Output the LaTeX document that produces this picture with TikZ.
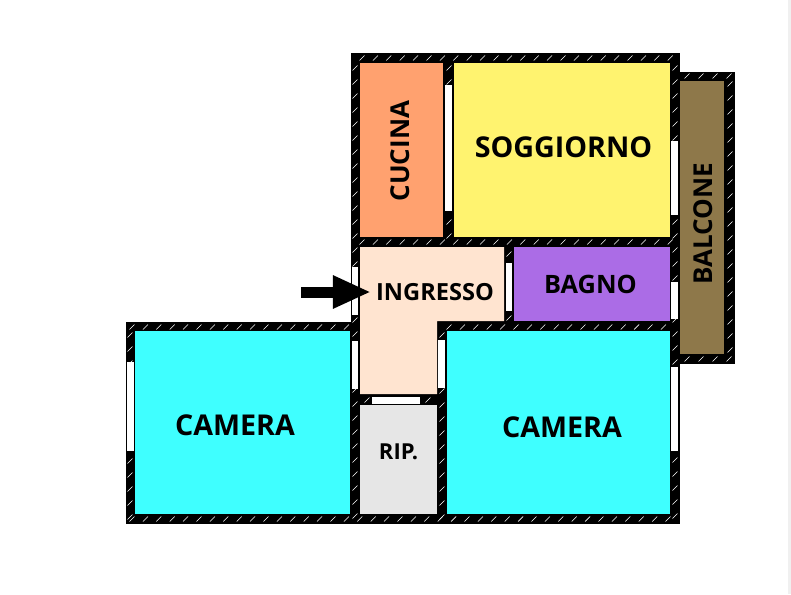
\documentclass[tikz,border=0pt]{standalone}
\usepackage{fontspec}
\setmainfont{Open Sans}
\usetikzlibrary{arrows.meta}
\definecolor{cucinaColor}{HTML}{FFA16F}
\definecolor{soggiornoColor}{HTML}{FFF36F}
\definecolor{ingressoColor}{HTML}{FFE4D0}
\definecolor{bagnoColor}{HTML}{AB6CE6}
\definecolor{cameraColor}{HTML}{3FFFFF}
\definecolor{ripColor}{HTML}{E6E6E6}
\definecolor{balconeColor}{HTML}{8E784A}
\begin{document}
\begin{tikzpicture}[x = 0.75pt, y = -0.75pt, font=\bfseries]
	\tikzstyle{wallStyle}=[fill = black, draw = none]
	\tikzstyle{roomStyle}=[draw = none]
	\tikzstyle{hatchStyle}=[draw = white, line width = 0.4pt]
	\tikzstyle{windowStyle}=[fill = white, draw = none]
	\tikzstyle{bigLabel}=[font = \fontsize{21.5}{21.5}\bfseries\selectfont, inner sep = 0pt]
	\tikzstyle{sideLabel}=[font = \fontsize{19.5}{19.5}\bfseries\selectfont, inner sep = 0pt, rotate = 90]
	\useasboundingbox (0,0) rectangle (791,594);
	\fill[white] (0,0) rectangle (791,594);
	\fill[black!6] (788,0) rectangle (791,594);
	\fill[wallStyle] (351,53) rectangle (680,322);
	\fill[wallStyle] (126,322) rectangle (680,524);
	\fill[wallStyle] (670,72) rectangle (735,364);
	\foreach \x in {362,375.4,...,676} \draw[hatchStyle] (\x-2.5,60.5) -- (\x+2.5,55.5);
	\foreach \x in {362,375.4,...,676} \draw[hatchStyle] (\x-2.5,244.5) -- (\x+2.5,239.5);
	\foreach \x in {132,145.4,...,350} \draw[hatchStyle] (\x-2.5,329.5) -- (\x+2.5,324.5);
	\foreach \x in {449,462.4,...,676} \draw[hatchStyle] (\x-2.5,329.5) -- (\x+2.5,324.5);
	\foreach \x in {132,145.4,...,676} \draw[hatchStyle] (\x-2.5,521.5) -- (\x+2.5,516.5);
	\foreach \x in {687,701,715,729} \draw[hatchStyle] (\x-2.5,78.5) -- (\x+2.5,73.5);
	\foreach \x in {687,701,715,729} \draw[hatchStyle] (\x-2.5,361.5) -- (\x+2.5,356.5);
	\foreach \x in {367,428} \draw[hatchStyle] (\x-2.5,402.5) -- (\x+2.5,397.5);
	\foreach \y in {68,82,...,520} \draw[hatchStyle] (352.5,\y+2.5) -- (357.5,\y-2.5);
	\foreach \y in {68,82,...,520} \draw[hatchStyle] (672.5,\y+2.5) -- (677.5,\y-2.5);
	\foreach \y in {68,82,...,236} \draw[hatchStyle] (446.5,\y+2.5) -- (451.5,\y-2.5);
	\foreach \y in {335,349,...,520} \draw[hatchStyle] (439.5,\y+2.5) -- (444.5,\y-2.5);
	\foreach \y in {335,349,...,520} \draw[hatchStyle] (127.5,\y+2.5) -- (132.5,\y-2.5);
	\foreach \y in {84,98,...,360} \draw[hatchStyle] (727.5,\y+2.5) -- (732.5,\y-2.5);
	\foreach \y in {254,318} \draw[hatchStyle] (506.5,\y+2.5) -- (511.5,\y-2.5);
	\fill[roomStyle, fill = cucinaColor] (360,63) rectangle (443,237);
	\fill[roomStyle, fill = soggiornoColor] (454,63) rectangle (670,237);
	\fill[roomStyle, fill = ingressoColor] (360,247) -- (504,247) -- (504,321) -- (437,321) -- (437,394) -- (360,394) -- cycle;
	\fill[roomStyle, fill = bagnoColor] (514,247) rectangle (670,321);
	\fill[roomStyle, fill = cameraColor] (135,331) rectangle (350,514);
	\fill[roomStyle, fill = cameraColor] (447,331) rectangle (670,514);
	\fill[roomStyle, fill = ripColor] (360,405) rectangle (437,514);
	\fill[roomStyle, fill = balconeColor] (680,81) rectangle (724,354);
	\fill[windowStyle] (445,85) rectangle (452,211);
	\fill[windowStyle] (352,267) rectangle (358,315);
	\fill[windowStyle] (352,341) rectangle (358,389);
	\fill[windowStyle] (438,340) rectangle (445,388);
	\fill[windowStyle] (372,397) rectangle (420,404);
	\fill[windowStyle] (506,263) rectangle (512,311);
	\fill[windowStyle] (671,141) rectangle (678,215);
	\fill[windowStyle] (671,282) rectangle (678,319);
	\fill[windowStyle] (671,367) rectangle (678,451);
	\fill[windowStyle] (127,362) rectangle (134,451);
	\node[sideLabel] (cucina) at (400,151) {CUCINA};
	\node[bigLabel] (soggiorno) at (563.5,147) {SOGGIORNO};
	\node[sideLabel] (balcone) at (703,224) {BALCONE};
	\node[font = \fontsize{17.7}{17.7}\bfseries\selectfont, inner sep = 0pt] (ingresso) at (435,292) {INGRESSO};
	\node[font = \fontsize{19}{19}\bfseries\selectfont, inner sep = 0pt] (bagno) at (590.5,284) {BAGNO};
	\node[bigLabel] (cameraLeft) at (235,425) {CAMERA};
	\node[bigLabel] (cameraRight) at (562,427) {CAMERA};
	\node[font = \fontsize{16.5}{16.5}\bfseries\selectfont, inner sep = 0pt] (rip) at (398.5,452) {RIP.};
	\coordinate (entry) at (301,292);
	\draw[line width = 8.25pt, shorten >= 3.75pt, -{Triangle[length = 28.5pt, width = 23pt]}] (entry) -- (ingresso.west);
\end{tikzpicture}
\end{document}
